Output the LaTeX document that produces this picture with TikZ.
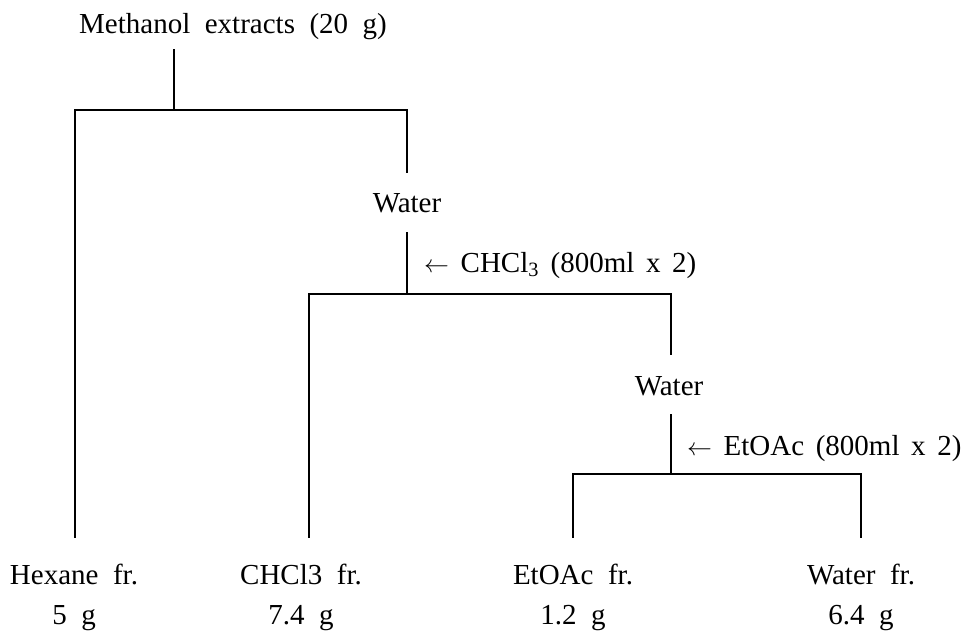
\documentclass[tikz,border=0pt]{standalone}
\usepackage{fontspec}
\setmainfont{Liberation Serif}[WordSpace=2]
\newfontfamily\notefont{Liberation Serif}[WordSpace=1.6]
\tikzset{
  lbl/.style={inner sep=0pt, anchor=base, font=\fontsize{29}{34}\selectfont},
  note/.style={inner sep=0pt, anchor=base west, font=\notefont\fontsize{29}{34}\selectfont},
  branch/.style={line width=1.6pt, line cap=rect},
}
\begin{document}
\begin{tikzpicture}[x=1pt,y=-1pt]
\useasboundingbox (0,0) rectangle (976,635);
% texts
\node[lbl] (meth) at (233,33) {Methanol extracts (20 g)};
\node[lbl] (wat1) at (407,212) {Water};
\node[note] (chcl) at (424,272) {$\leftarrow$ CHCl\textsubscript{3} (800ml x 2)};
\node[lbl] (wat2) at (669,395) {Water};
\node[note] (etoac) at (687,455) {$\leftarrow$ EtOAc (800ml x 2)};
\node[lbl] (hex) at (74,584) {Hexane fr.};
\node[lbl] (chf) at (301,584) {CHCl3 fr.};
\node[lbl] (etf) at (573,584) {EtOAc fr.};
\node[lbl] (waf) at (861,584) {Water fr.};
\node[lbl] (hexg) at (74,624) {5 g};
\node[lbl] (chfg) at (301,624) {7.4 g};
\node[lbl] (etfg) at (573,624) {1.2 g};
\node[lbl] (wafg) at (861,624) {6.4 g};
% junction coordinates
\coordinate (m0) at (174,50);
\coordinate (j1) at (174,110);
\coordinate (l1) at (75,110);
\coordinate (r1) at (407,110);
\coordinate (r1e) at (407,172);
\coordinate (w1b) at (407,233);
\coordinate (j2) at (407,294);
\coordinate (l2) at (309,294);
\coordinate (r2) at (671,294);
\coordinate (r2e) at (671,354);
\coordinate (w2b) at (671,415);
\coordinate (j3) at (671,474);
\coordinate (l3) at (573,474);
\coordinate (r3) at (861,474);
\coordinate (e1) at (75,537);
\coordinate (e2) at (309,537);
\coordinate (e3) at (573,537);
\coordinate (e4) at (861,537);
% connectors
\draw[branch] (m0) -- (j1);
\draw[branch] (e1) -- (l1) -- (r1) -- (r1e);
\draw[branch] (w1b) -- (j2);
\draw[branch] (e2) -- (l2) -- (r2) -- (r2e);
\draw[branch] (w2b) -- (j3);
\draw[branch] (e3) -- (l3) -- (r3) -- (e4);
\end{tikzpicture}
\end{document}
